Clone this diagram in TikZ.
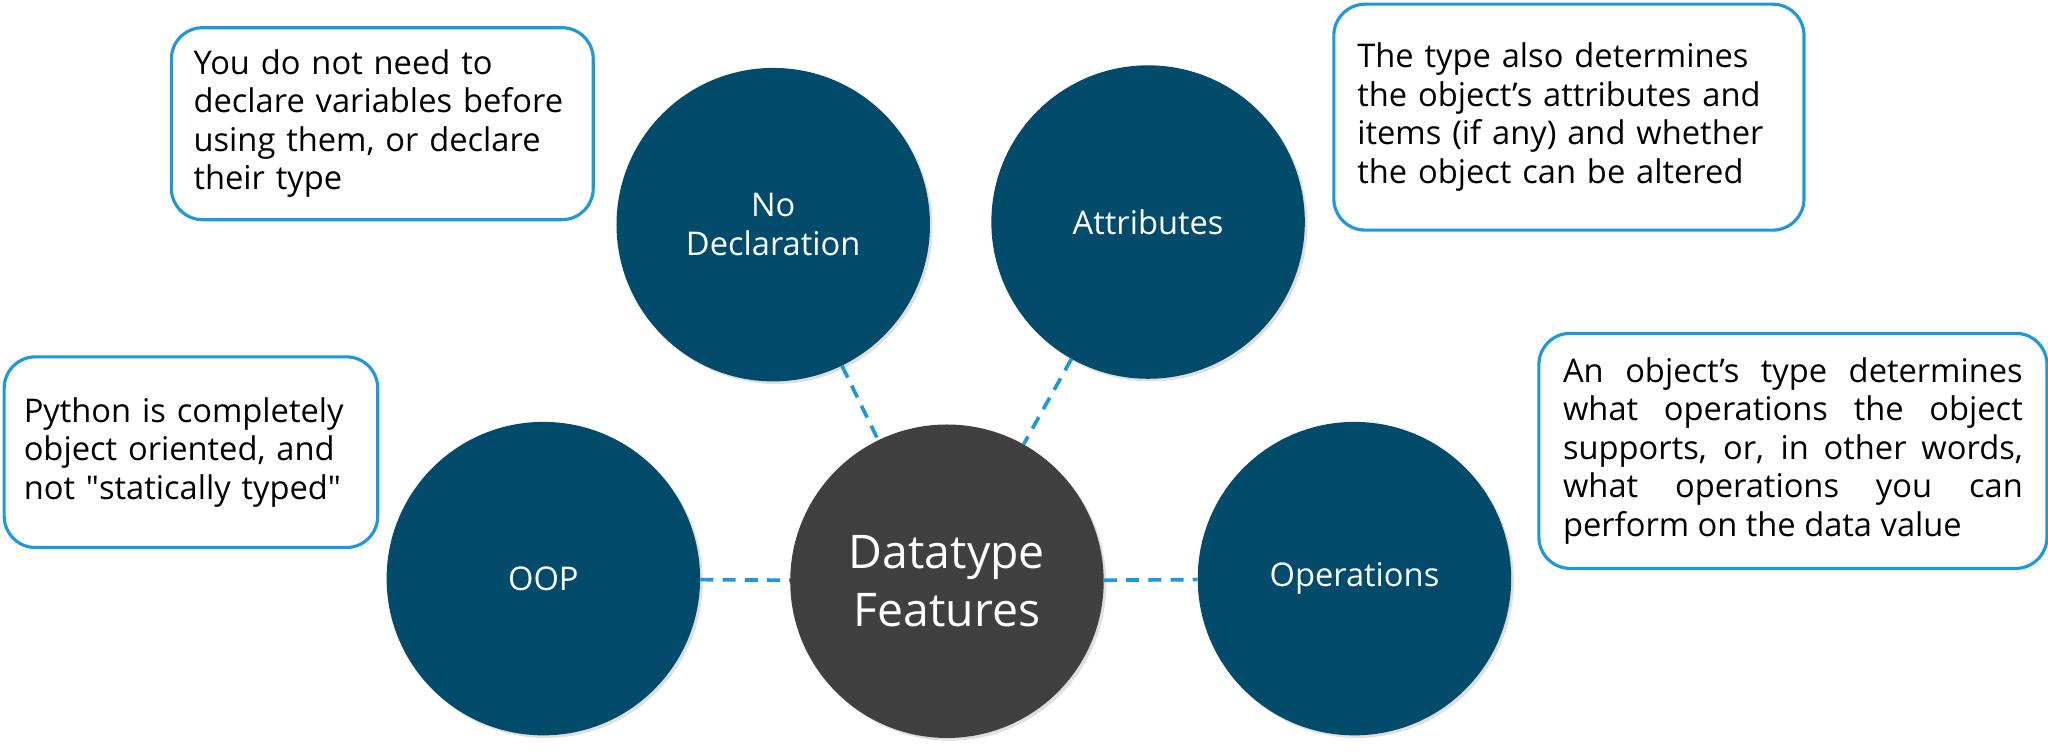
\documentclass[tikz,border=0pt]{standalone}
\usepackage{fontspec}
\setmainfont{Open Sans}
\usetikzlibrary{shadows}
\definecolor{topicblue}{HTML}{024B6B}
\definecolor{hubgray}{HTML}{404040}
\definecolor{lineblue}{HTML}{1C98DC}
\begin{document}
\begin{tikzpicture}[
    x=1pt, y=-1pt,
    topic/.style={circle, fill=topicblue, minimum size=240pt, inner sep=0pt, text=white, align=center,
        font=\fontsize{25}{29.5}\selectfont, drop shadow={shadow xshift=2pt, shadow yshift=-2pt, opacity=0.25}},
    hub/.style={topic, fill=hubgray, font=\fontsize{35.5}{44}\selectfont},
    note/.style={rectangle, rounded corners=24pt, draw=lineblue, line width=2.4pt, fill=white, anchor=north west,
        inner sep=0pt, font=\fontsize{25}{29.5}\selectfont},
    link/.style={draw=lineblue, line width=2.8pt, dash pattern=on 10pt off 7pt}
]
\useasboundingbox (0,0) rectangle (1568,575);

% Circles
\node[hub] (dtf) at (725,445) {Datatype\\Features};
\node[topic] (nodecl) at (592,172) {No\\Declaration};
\node[topic] (attr) at (879,170) {Attributes};
\node[topic] (oop) at (416,443) {OOP};
\node[topic] (ops) at (1037,443) {Operations};

% Dashed links to the hub
\draw[link] (oop) -- (dtf);
\draw[link] (dtf) -- (ops);
\draw[link] (nodecl) -- (dtf);
\draw[link] (attr) -- (dtf);

% Notes
\node[note, minimum width=323pt, minimum height=147pt, text width=289pt, align=left] (noteDecl) at (130,20)
    {You do not need to\\declare variables before\\using them, or declare\\their type};
\node[note, minimum width=360pt, minimum height=173pt, text width=324pt, align=left] (noteAttr) at (1020,2)
    {The type also determines\\the object’s attributes and\\items (if any) and whether\\the object can be altered};
\node[note, minimum width=286pt, minimum height=146pt, text width=256pt, align=left] (noteOop) at (2,272)
    {Python is completely\\object oriented, and\\not \textquotedbl statically typed\textquotedbl};
\node[note, minimum width=389pt, minimum height=180pt, text width=352pt, align=justify] (noteOps) at (1177,254)
    {An object’s type determines\linebreak what operations the object\linebreak supports, or, in other words,\linebreak
     what operations you can\linebreak perform on the data value};

\end{tikzpicture}
\end{document}
